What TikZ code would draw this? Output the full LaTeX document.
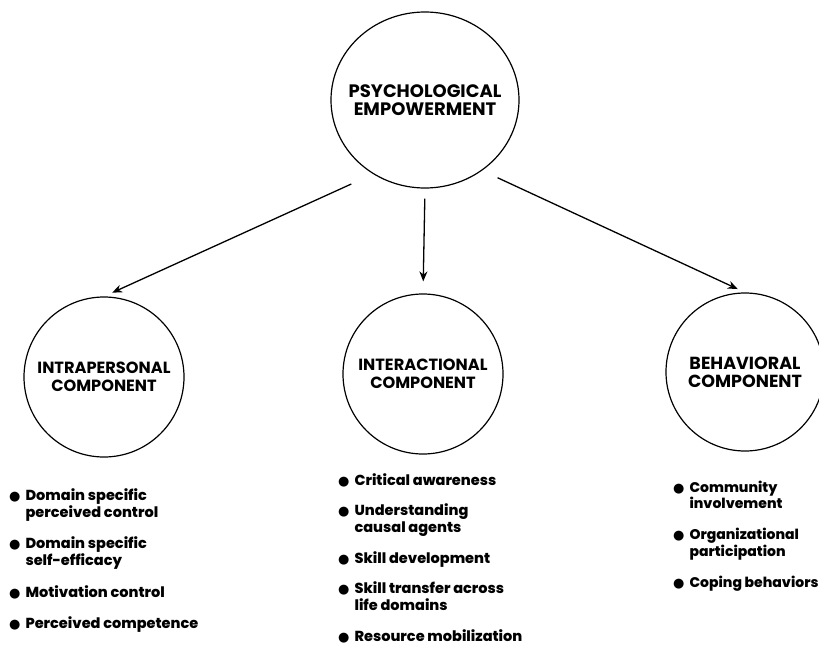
\documentclass[tikz,border=0pt]{standalone}
\usepackage{fontspec}
\setmainfont{Poppins}
\newfontfamily\capfont{Poppins Bold}
\newfontfamily\itemfont{Poppins ExtraBold}
\newfontfamily\dotfont{DejaVu Sans}
\usepackage{tikz}
\usetikzlibrary{arrows.meta,shapes.geometric}

\newcommand{\blt}{{\dotfont\fontsize{13}{13}\selectfont ●}}

\begin{document}
\begin{tikzpicture}[x=1pt,y=-1pt,
    comp/.style={draw, circle, line width=1.2pt, minimum size=160pt, inner sep=0pt, align=center,
      font=\capfont\fontsize{16.2}{18}\selectfont},
    items/.style={anchor=base west, inner sep=0pt, font=\itemfont\fontsize{14.5}{17}\selectfont},
    link/.style={-{Stealth[length=10pt,width=8pt]}, line width=1.3pt}]
        \useasboundingbox (0,0) rectangle (819,648);
        \node[draw, ellipse, line width=1.2pt, minimum width=188pt, minimum height=176pt, inner xsep=-12pt, inner ysep=0pt,
          align=center, font=\capfont\fontsize{18}{18}\selectfont] (pe) at (425,100) {PSYCHOLOGICAL\\EMPOWERMENT};
        \node[comp] (ia) at (104,377) {INTRAPERSONAL\\COMPONENT};
        \node[comp] (ic) at (423,374) {INTERACTIONAL\\COMPONENT};
        \node[comp, minimum size=158pt, font=\capfont\fontsize{17.5}{18}\selectfont] (bc) at (745,372) {BEHAVIORAL\\COMPONENT};
        \draw[link, shorten <=24pt, shorten >=9pt] (pe.235) -- (ia.north);
        \draw[link, shorten <=10pt, shorten >=12pt] (pe.south) -- (ic.north);
        \draw[link, shorten <=17pt, shorten >=8pt] (pe.309) -- (bc.north);
        \node[items] (ialist) at (9,500) {\begin{tabular}[t]{@{}l@{\hspace{5pt}}l@{}}
          \blt & Domain specific\\ & perceived control\\[14.5pt]
          \blt & Domain specific\\ & self-efficacy\\[14.5pt]
          \blt & Motivation control\\[14.5pt]
          \blt & Perceived competence
        \end{tabular}};
        \node[items] (iclist) at (338,485) {\begin{tabular}[t]{@{}l@{\hspace{5pt}}l@{}}
          \blt & Critical awareness\\[13.5pt]
          \blt & Understanding\\ & causal agents\\[13.5pt]
          \blt & Skill development\\[13.5pt]
          \blt & Skill transfer across\\ & life domains\\[13.5pt]
          \blt & Resource mobilization
        \end{tabular}};
        \node[items, font=\itemfont\fontsize{14}{16.5}\selectfont] (bclist) at (673,492) {\begin{tabular}[t]{@{}l@{\hspace{5pt}}l@{}}
          \blt & Community\\ & involvement\\[14.5pt]
          \blt & Organizational\\ & participation\\[14.5pt]
          \blt & Coping behaviors
        \end{tabular}};
      \end{tikzpicture}
\end{document}
